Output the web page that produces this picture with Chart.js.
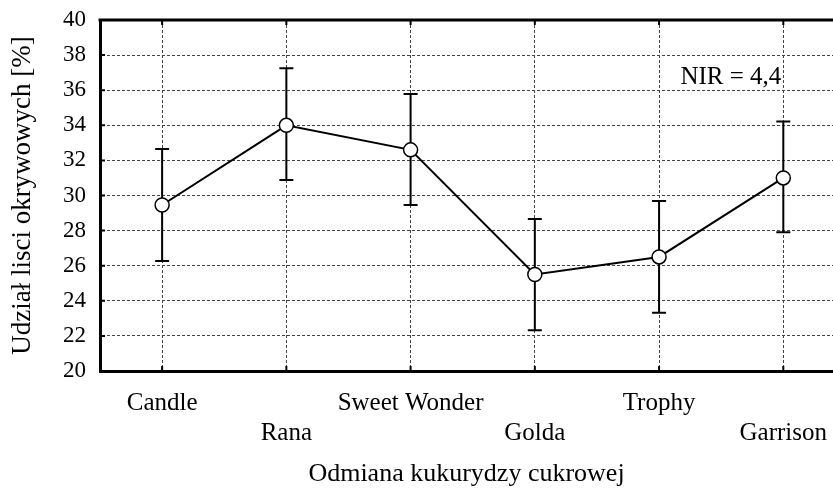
<!DOCTYPE html>
<html>
<head>
<meta charset="utf-8">
<script src="https://cdn.jsdelivr.net/npm/chart.js@4/dist/chart.umd.min.js"></script>
<style>
  html, body { margin: 0; padding: 0; background: #fff; }
  canvas { display: block; }
</style>
</head>
<body>
<canvas id="myChart" width="833" height="488"></canvas>
<script>
// Odmiany kukurydzy cukrowej - udzial lisci okrywowych
const categories = ['Candle', 'Rana', 'Sweet Wonder', 'Golda', 'Trophy', 'Garrison'];
const means = [29.46, 34.0, 32.6, 25.5, 26.5, 31.0];
const lowerErr = [26.27, 30.88, 29.46, 22.32, 23.32, 27.9];
const upperErr = [32.65, 37.25, 35.78, 28.66, 29.69, 34.22];
const yTicks = [20, 22, 24, 26, 28, 30, 32, 34, 36, 38, 40];
const nirText = 'NIR = 4,4';

const serif = '"Liberation Serif", "Times New Roman", serif';

// frame top line, inward tick marks, error bars, NIR text
const extras = {
    id: 'extras',
    beforeDatasetsDraw(chart) {
        const ctx = chart.ctx;
        const x = chart.scales.x, y = chart.scales.y;
        ctx.save();
        ctx.strokeStyle = '#000';
        ctx.lineWidth = 2;
        means.forEach((m, i) => {
            const px = x.getPixelForValue(i);
            const top = y.getPixelForValue(upperErr[i]);
            const bot = y.getPixelForValue(lowerErr[i]);
            ctx.beginPath();
            ctx.moveTo(px, top); ctx.lineTo(px, bot);
            ctx.moveTo(px - 7, top); ctx.lineTo(px + 7, top);
            ctx.moveTo(px - 7, bot); ctx.lineTo(px + 7, bot);
            ctx.stroke();
        });
        ctx.restore();
    },
    afterDraw(chart) {
        const ctx = chart.ctx;
        const a = chart.chartArea;
        const x = chart.scales.x, y = chart.scales.y;
        ctx.save();
        ctx.strokeStyle = '#000';
        ctx.lineWidth = 3;
        ctx.beginPath();
        ctx.moveTo(a.left - 1.5, a.top);
        ctx.lineTo(chart.width, a.top);
        ctx.stroke();
        ctx.lineWidth = 2;
        ctx.beginPath();
        categories.forEach((c, i) => {
            const px = x.getPixelForValue(i);
            ctx.moveTo(px, a.top); ctx.lineTo(px, a.top + 5);
            ctx.moveTo(px, a.bottom); ctx.lineTo(px, a.bottom - 5);
        });
        yTicks.forEach(v => {
            const py = y.getPixelForValue(v);
            ctx.moveTo(a.left, py); ctx.lineTo(a.left + 5, py);
        });
        ctx.stroke();
        ctx.fillStyle = '#000';
        ctx.font = '25px ' + serif;
        ctx.textAlign = 'right';
        ctx.textBaseline = 'middle';
        ctx.fillText(nirText, x.getPixelForValue(5) - 2, y.getPixelForValue(36.7));
        ctx.restore();
    }
};

new Chart(document.getElementById('myChart'), {
    type: 'line',
    data: {
        datasets: [{
            data: means.map((m, i) => ({ x: i, y: m })),
            borderColor: '#000',
            borderWidth: 2,
            pointRadius: 7,
            pointBorderWidth: 1.5,
            pointBackgroundColor: '#fff',
            pointBorderColor: '#000',
            tension: 0
        }]
    },
    options: {
        responsive: false,
        animation: false,
        layout: { autoPadding: false, padding: { top: 20, right: 0, left: 0, bottom: 0 } },
        plugins: { legend: { display: false }, tooltip: { enabled: false } },
        scales: {
            x: {
                type: 'linear',
                min: -0.5,
                max: 5.4,
                afterBuildTicks: axis => { axis.ticks = categories.map((c, i) => ({ value: i })); },
                afterFit: s => { s.height = 117; s.paddingLeft = 0; s.paddingRight = 0; },
                ticks: {
                    color: '#000',
                    font: { family: serif, size: 25, lineHeight: 1.2 },
                    padding: 17,
                    maxRotation: 0,
                    autoSkip: false,
                    callback: (v) => (v % 2 === 0 ? [categories[v], ''] : ['', categories[v]])
                },
                grid: { color: '#444', lineWidth: 1, drawTicks: false },
                border: { color: '#000', width: 3, dash: [3, 2] },
                title: {
                    display: true,
                    text: 'Odmiana kukurydzy cukrowej',
                    color: '#000',
                    font: { family: serif, size: 26 },
                    padding: { top: 4, bottom: -2 }
                }
            },
            y: {
                min: 20,
                max: 40,
                afterBuildTicks: axis => { axis.ticks = yTicks.map(v => ({ value: v })); },
                afterFit: s => { s.width = 100; s.paddingTop = 0; s.paddingBottom = 0; },
                ticks: {
                    color: '#000',
                    font: { family: serif, size: 23 },
                    padding: 14
                },
                grid: { color: '#444', lineWidth: 1, drawTicks: false },
                border: { color: '#000', width: 3, dash: [3, 2] },
                title: {
                    display: true,
                    text: 'Udział lisci okrywowych [%]',
                    color: '#000',
                    font: { family: serif, size: 27 },
                    padding: { top: 7, bottom: 0 }
                }
            }
        }
    },
    plugins: [extras]
});
</script>
</body>
</html>
